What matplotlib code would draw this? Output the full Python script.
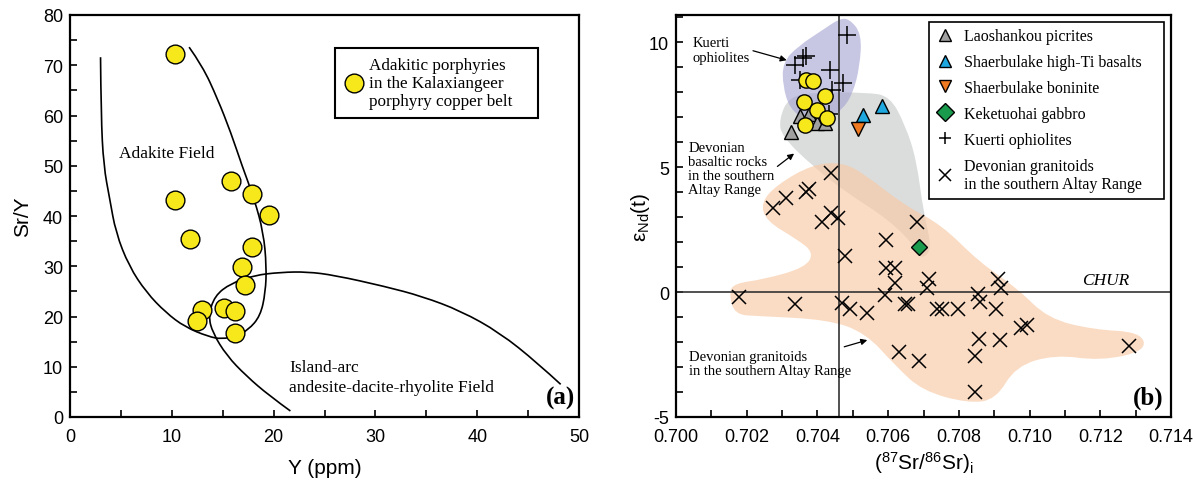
"""
Sr/Y vs Y and eNd(t) vs (87Sr/86Sr)i for the Kalaxiangeer porphyries
"""

import matplotlib
matplotlib.use("Agg")
import matplotlib.pyplot as plt
import numpy as np
from matplotlib.path import Path
from matplotlib.patches import PathPatch
from matplotlib.ticker import MultipleLocator

plt.rcParams["font.family"] = ["Liberation Sans", "DejaVu Sans"]
plt.rcParams["mathtext.fontset"] = "custom"
plt.rcParams["mathtext.rm"] = "Liberation Sans"
plt.rcParams["mathtext.it"] = "Liberation Sans:italic"
plt.rcParams["mathtext.default"] = "regular"
plt.rcParams["axes.unicode_minus"] = False
SERIF = ["Liberation Serif", "DejaVu Serif"]

# ---- panel (a): Sr/Y vs Y ----
y_ppm = [10.35, 10.35, 15.8, 17.9, 19.5, 11.75, 17.9, 16.9, 17.2, 15.1, 16.2, 13.0, 12.5, 16.2]
sr_y = [72.3, 43.1, 47.0, 44.4, 40.1, 35.5, 33.8, 29.9, 26.3, 21.7, 21.0, 21.2, 19.1, 16.7]

adakite_curve = [(3.0, 71.6), (3.05, 60.0), (3.3, 50.0), (3.9, 43.4), (4.5, 36.7), (5.8, 30.0),
                 (7.5, 24.8), (9.4, 20.8), (11.3, 17.9), (13.6, 16.0), (14.9, 15.5), (16.3, 16.1),
                 (17.5, 17.3), (18.7, 20.1), (19.2, 24.8), (19.3, 30.0), (19.0, 36.7), (18.1, 43.4),
                 (16.9, 50.0), (15.8, 56.6), (14.5, 63.3), (13.0, 69.9), (11.7, 73.6)]
arc_curve = [(21.65, 1.2), (19.6, 4.2), (17.3, 8.2), (15.4, 12.2), (14.0, 16.8), (13.6, 20.1),
             (14.2, 24.1), (15.8, 26.6), (18.1, 28.2), (20.7, 28.8), (23.3, 28.9), (26.0, 28.2),
             (30.9, 26.0), (34.6, 24.0), (38.4, 21.1), (42.2, 16.8), (45.9, 10.8), (48.2, 6.5)]

# ---- panel (b): eNd(t) vs (87Sr/86Sr)i ----
por_sr = [0.70367, 0.70387, 0.70422, 0.70363, 0.70398, 0.70426, 0.70366]
por_nd = [8.51, 8.44, 7.87, 7.62, 7.31, 6.97, 6.71]

lao_sr = [0.70325, 0.70351, 0.70376, 0.70398, 0.70422]
lao_nd = [6.40, 7.07, 7.13, 6.78, 6.78]

hti_sr = [0.70528, 0.70582]
hti_nd = [7.11, 7.44]

bon_sr = [0.70514]
bon_nd = [6.53]

gab_sr = [0.70688]
gab_nd = [1.82]

kue_sr = [0.70483, 0.70337, 0.70360, 0.70369, 0.70435, 0.70471, 0.70351, 0.70440, 0.70434]
kue_nd = [10.31, 9.11, 9.37, 9.47, 8.91, 8.38, 8.51, 8.10, 7.13]

gra_sr = [0.704375, 0.702735, 0.703111, 0.703677, 0.70377, 0.70412, 0.704375, 0.70459,
          0.70681, 0.70594, 0.70478, 0.70594, 0.70619, 0.70619, 0.70716, 0.70709, 0.70911,
          0.70919, 0.70179, 0.70337, 0.70469, 0.70492, 0.70541, 0.70591, 0.70648, 0.70657,
          0.70737, 0.70751, 0.70797, 0.70855, 0.70860, 0.70905, 0.70976, 0.70992, 0.70858,
          0.70916, 0.70632, 0.70688, 0.70846, 0.70846, 0.71282]
gra_nd = [4.78, 3.38, 3.78, 4.00, 4.13, 2.80, 3.18, 2.97, 2.80, 2.08, 1.44, 0.97, 0.97, 0.37,
          0.53, 0.17, 0.53, 0.17, -0.20, -0.49, -0.45, -0.69, -0.83, -0.13, -0.49, -0.49,
          -0.69, -0.67, -0.67, -0.09, -0.40, -0.69, -1.42, -1.33, -1.87, -1.93, -2.40, -2.76,
          -2.56, -4.00, -2.17]

chur_sr = 0.70462

kuerti_field = [(0.70490, 10.95), (0.70525, 10.35), (0.70520, 9.05), (0.70500, 7.95),
                (0.70470, 7.30), (0.70424, 6.85), (0.70365, 6.90), (0.70322, 7.35),
                (0.70302, 8.25), (0.70302, 9.20), (0.70345, 9.85), (0.70420, 10.55),
                (0.70462, 10.95)]
basalt_field = [(0.70298, 6.26), (0.70386, 5.05), (0.70483, 3.98), (0.70601, 2.91),
                (0.70676, 1.84), (0.70692, 1.30), (0.70725, 1.70), (0.70700, 3.18),
                (0.70680, 5.32), (0.70648, 6.70), (0.70605, 7.85), (0.70540, 8.00),
                (0.70386, 8.00), (0.70318, 7.80), (0.70292, 6.93)]
granite_field = [(0.70150, -0.03), (0.70165, -0.90), (0.70236, -0.96), (0.70429, -1.10),
                 (0.70536, -1.63), (0.70622, -2.97), (0.70697, -3.95), (0.70826, -4.45),
                 (0.70905, -4.30), (0.70960, -2.97), (0.71073, -2.50), (0.71200, -2.75),
                 (0.71330, -2.35), (0.71315, -1.60), (0.71180, -1.50), (0.71051, -1.05),
                 (0.70966, 0.15), (0.70858, 1.20), (0.70751, 2.70), (0.70644, 3.50),
                 (0.70536, 4.70), (0.70472, 5.20), (0.70386, 5.12), (0.70285, 4.30),
                 (0.70240, 3.58), (0.70255, 2.85), (0.70343, 2.11), (0.70390, 1.58),
                 (0.70365, 0.98), (0.70247, 0.51), (0.70165, 0.35)]


def smooth_path(pts, closed=False):
    """Quadratic B-spline path through the given control points"""
    pts = np.asarray(pts, dtype=float)
    if closed:
        mids = (pts + np.roll(pts, -1, axis=0)) / 2
        verts = [mids[-1]]
        codes = [Path.MOVETO]
        for i in range(len(pts)):
            verts += [pts[i], mids[i]]
            codes += [Path.CURVE3, Path.CURVE3]
    else:
        verts = [pts[0]]
        codes = [Path.MOVETO]
        for i in range(1, len(pts) - 1):
            end = (pts[i] + pts[i + 1]) / 2 if i < len(pts) - 2 else pts[i + 1]
            verts += [pts[i], end]
            codes += [Path.CURVE3, Path.CURVE3]
    return Path(verts, codes)


def style_axes(ax):
    for sp in ax.spines.values():
        sp.set_linewidth(1.6)
    ax.tick_params(which="both", direction="in", length=5, width=1.2,
                   top=False, right=False, labelsize=13)
    ax.tick_params(axis="x", pad=8)
    ax.tick_params(axis="y", pad=5)


fig = plt.figure(figsize=(11.93, 4.81), dpi=100)

# ---------------- (a) ----------------
ax1 = fig.add_axes([70 / 1193, 63 / 481, 509 / 1193, 402 / 481])
ax1.add_patch(PathPatch(smooth_path(adakite_curve), fill=False, lw=1.2, ec="black"))
ax1.add_patch(PathPatch(smooth_path(arc_curve), fill=False, lw=1.2, ec="black"))
ax1.plot(y_ppm, sr_y, "o", ms=13.5, mfc="#f7e81c", mec="black", mew=1.0,
         label="Adakitic porphyries\nin the Kalaxiangeer\nporphyry copper belt")
ax1.set_xlim(0, 50)
ax1.set_ylim(0, 80)
ax1.xaxis.set_major_locator(MultipleLocator(10))
ax1.xaxis.set_minor_locator(MultipleLocator(5))
ax1.yaxis.set_major_locator(MultipleLocator(10))
ax1.yaxis.set_minor_locator(MultipleLocator(5))
style_axes(ax1)
ax1.set_xlabel("Y (ppm)", fontsize=15, labelpad=9)
ax1.set_ylabel("Sr/Y", fontsize=15, labelpad=8)
ax1.text(4.8, 52.5, "Adakite Field", family=SERIF, fontsize=12.5, va="center")
ax1.text(21.5, 10.0, "Island-arc", family=SERIF, fontsize=12.5, va="center")
ax1.text(21.5, 6.0, "andesite-dacite-rhyolite Field", family=SERIF, fontsize=12.5, va="center")
ax1.text(49.6, 3.9, "(a)", family=SERIF, fontsize=18, fontweight="bold", ha="right", va="center")
leg1 = ax1.legend(loc="upper left", bbox_to_anchor=(0.521, 0.918, 0.399, 0.0), mode="expand",
                  borderaxespad=0, fancybox=False, edgecolor="black", framealpha=1,
                  handletextpad=0.3, handlelength=1.2, borderpad=0.5,
                  prop={"family": SERIF, "size": 12.3})
leg1.get_frame().set_linewidth(1.5)

# ---------------- (b) ----------------
ax2 = fig.add_axes([676 / 1193, 63 / 481, 495 / 1193, 402 / 481])
ax2.add_patch(PathPatch(smooth_path(basalt_field, closed=True), fc="#d2d5d5", ec="none",
                        alpha=0.8, zorder=1))
ax2.add_patch(PathPatch(smooth_path(granite_field, closed=True), fc="#f8c9a4", ec="none",
                        alpha=0.65, zorder=1.1))
ax2.add_patch(PathPatch(smooth_path(kuerti_field, closed=True), fc="#a3a2d2", ec="none",
                        alpha=0.6, zorder=1.2))
ax2.axhline(0, color="#333333", lw=1.2, zorder=2)
ax2.axvline(chur_sr, color="#333333", lw=1.2, zorder=2)

ax2.plot(lao_sr, lao_nd, "^", ms=10, mfc="#a0a0a0", mec="black", mew=1.0, zorder=3,
         label="Laoshankou picrites")
ax2.plot(hti_sr, hti_nd, "^", ms=10, mfc="#1fa8e0", mec="black", mew=1.0, zorder=3,
         label="Shaerbulake high-Ti basalts")
ax2.plot(bon_sr, bon_nd, "v", ms=10, mfc="#f07a22", mec="black", mew=1.0, zorder=3,
         label="Shaerbulake boninite")
ax2.plot(gab_sr, gab_nd, "D", ms=8, mfc="#1a9a4c", mec="black", mew=1.0, zorder=3,
         label="Keketuohai gabbro")
ax2.plot(kue_sr, kue_nd, "+", ms=13, mec="black", mew=1.1, zorder=3,
         label="Kuerti ophiolites")
ax2.plot(gra_sr, gra_nd, "x", ms=10, mec="black", mew=1.1, zorder=3,
         label="Devonian granitoids\nin the southern Altay Range")
ax2.plot(por_sr, por_nd, "o", ms=11, mfc="#f7e81c", mec="black", mew=1.0, zorder=4)

ax2.set_xlim(0.700, 0.714)
ax2.set_ylim(-5, 11.1)
ax2.xaxis.set_major_locator(MultipleLocator(0.002))
ax2.xaxis.set_minor_locator(MultipleLocator(0.001))
ax2.yaxis.set_major_locator(MultipleLocator(5))
ax2.yaxis.set_minor_locator(MultipleLocator(1))
ax2.xaxis.set_major_formatter(plt.FormatStrFormatter("%.3f"))
style_axes(ax2)
ax2.set_xlabel(r"($^{87}$Sr/$^{86}$Sr)$_{\mathregular{i}}$", fontsize=15, labelpad=3)
ax2.set_ylabel(r"ε$_{\mathregular{Nd}}$(t)", fontsize=15, labelpad=-2)

ax2.text(0.71282, 0.15, "CHUR", family=SERIF, style="italic", fontsize=12.5,
         ha="right", va="bottom")
ax2.text(0.71378, -4.2, "(b)", family=SERIF, fontsize=18, fontweight="bold",
         ha="right", va="center")
ax2.annotate("Kuerti\nophiolites", xy=(0.70313, 9.29), xytext=(0.70048, 9.7),
             family=SERIF, fontsize=10.5, va="center", ha="left", linespacing=1.15,
             arrowprops=dict(arrowstyle="-|>", color="black", lw=0.9, mutation_scale=9,
                             shrinkA=0, shrinkB=0, relpos=(1.0, 0.5)))
ax2.annotate("Devonian\nbasaltic rocks\nin the southern\nAltay Range",
             xy=(0.70334, 5.55), xytext=(0.70035, 4.95),
             family=SERIF, fontsize=10.5, va="center", ha="left", linespacing=1.1,
             arrowprops=dict(arrowstyle="-|>", color="black", lw=0.9, mutation_scale=9,
                             shrinkA=0, shrinkB=0, relpos=(1.0, 0.5)))
ax2.annotate("Devonian granitoids\nin the southern Altay Range",
             xy=(0.70541, -1.92), xytext=(0.70038, -2.85),
             family=SERIF, fontsize=10.5, va="center", ha="left", linespacing=1.15,
             arrowprops=dict(arrowstyle="-|>", color="black", lw=0.9, mutation_scale=9,
                             shrinkA=0, shrinkB=0, relpos=(0.75, 0.75)))
leg2 = ax2.legend(loc="upper left", bbox_to_anchor=(0.511, 0.983, 0.475, 0.0), mode="expand",
                  borderaxespad=0, fancybox=False, edgecolor="black", framealpha=1,
                  handletextpad=0.6, handlelength=1.2, borderpad=0.4, labelspacing=0.62,
                  prop={"family": SERIF, "size": 11.5})
leg2.get_frame().set_linewidth(1.2)
for h in leg2.legend_handles:
    h.set_markersize(9)

fig.savefig("out.png", dpi=100)
